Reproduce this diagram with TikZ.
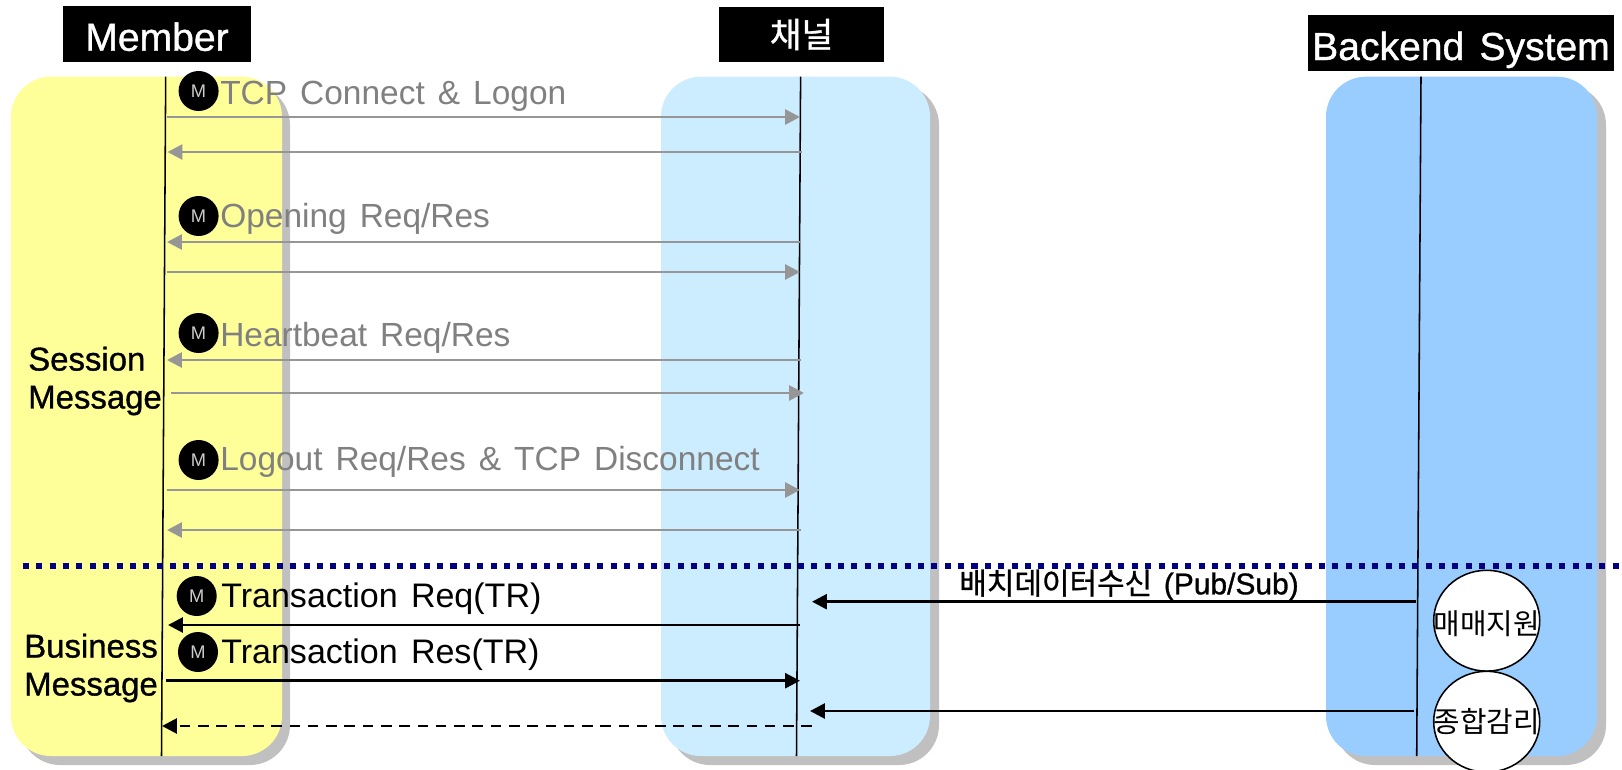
\documentclass[tikz,border=0pt]{standalone}
\usepackage{fontspec}
\setmainfont[WordSpace=1.4]{Liberation Sans}
\newfontfamily\heavyfont[FakeBold=1,WordSpace=1.4]{Liberation Sans}
\newfontfamily\krfont{Noto Sans CJK KR}
\newfontfamily\krheavy[FakeBold=1]{Noto Sans CJK KR}
\usetikzlibrary{calc,shapes.geometric,arrows.meta}
\definecolor{memberyellow}{HTML}{FFFF99}
\definecolor{channelblue}{HTML}{CCECFF}
\definecolor{backendblue}{HTML}{99CCFF}
\definecolor{shadowgray}{HTML}{C0C0C0}
\definecolor{sessiongray}{HTML}{969696}
\definecolor{labelgray}{HTML}{808080}
\definecolor{dotnavy}{HTML}{000080}
\tikzset{
  header/.style={fill=black,text=white,inner sep=0pt,font={\heavyfont\fontsize{27.8}{27.8}\selectfont}},
  lane/.style={rounded corners=1cm},
  lifeline/.style={line width=1.1pt},
  session/.style={->,line width=2pt,sessiongray},
  business/.style={->,line width=2pt},
  mark badge/.style={circle,fill=black,text=white!80!black,inner sep=0pt,minimum size=1cm,font={\fontsize{13}{13}\selectfont}},
  msglabel/.style={anchor=west,inner sep=0pt,font={\fontsize{23.8}{23.8}\selectfont}},
  sidelabel/.style={align=left,anchor=west,inner sep=0pt,font={\heavyfont\fontsize{23.4}{27}\selectfont}},
  sysbubble/.style={ellipse,draw,line width=1.1pt,fill=white,inner sep=0pt,minimum width=2.65cm,minimum height=2.52cm,font={\krfont\fontsize{20.5}{20.5}\selectfont}}
}
\begin{document}
\begin{tikzpicture}[>={Triangle[length=10.5pt,width=10.5pt]},x=0.025cm,y=-0.025cm]
\useasboundingbox (0,0) rectangle (1622,769);
\clip (0,0) rectangle (1622,769);

% lanes
\fill[lane,shadowgray] (20,85) rectangle (290,765);
\fill[lane,memberyellow] (11,76.7) rectangle (282,756);
\fill[lane,shadowgray] (670,85) rectangle (939,765);
\fill[lane,channelblue] (661,76.7) rectangle (930,756);
\fill[lane,shadowgray] (1335,85) rectangle (1606,765);
\fill[lane,backendblue] (1326,76.7) rectangle (1597,756);

% headers
\node[header,minimum width=4.7cm,minimum height=1.4cm] (member) at (157,34) {\raisebox{-11.9pt}[0pt][0pt]{Member}};
\node[header,minimum width=4.125cm,minimum height=1.375cm] (channel) at (801.5,34.5) {\krheavy\fontsize{24.5}{24.5}\selectfont 채널};
\node[header,minimum width=7.65cm,minimum height=1.4cm] (backend) at (1461,43) {\raisebox{-12.1pt}[0pt][0pt]{Backend System}};

% lifelines
\coordinate (mt) at (165.7,76.7);
\coordinate (mb) at (161.5,756);
\coordinate (ct) at (800.6,76.7);
\coordinate (cb) at (796.5,756);
\coordinate (bt) at (1421,76.7);
\coordinate (bb) at (1416.7,756);
\draw[lifeline] (mt) -- (mb);
\draw[lifeline] (ct) -- (cb);
\draw[lifeline] (bt) -- (bb);

% divider
\coordinate (dl) at (23,565.7);
\coordinate (dr) at (1622,565.7);
\draw[dotnavy,line width=4.3pt,dash pattern=on 4.3pt off 5.2pt] (dl) -- (dr);

% session messages
\coordinate (s1l) at (166.5,117);   \coordinate (s1r) at (800,117);
\coordinate (s2l) at (167.5,152);   \coordinate (s2r) at (801.5,152);
\coordinate (s3l) at (167,242);     \coordinate (s3r) at (801,242);
\coordinate (s4l) at (166.5,272);   \coordinate (s4r) at (800,272);
\coordinate (s5l) at (167,360);     \coordinate (s5r) at (801,360);
\coordinate (s6l) at (171,393);     \coordinate (s6r) at (804,393);
\coordinate (s7l) at (166.5,490);   \coordinate (s7r) at (800,490);
\coordinate (s8l) at (167,530);     \coordinate (s8r) at (801,530);
\draw[session] (s1l) -- (s1r);
\draw[session] (s2r) -- (s2l);
\draw[session] (s3r) -- (s3l);
\draw[session] (s4l) -- (s4r);
\draw[session] (s5r) -- (s5l);
\draw[session] (s6l) -- (s6r);
\draw[session] (s7l) -- (s7r);
\draw[session] (s8r) -- (s8l);

% business messages
\coordinate (b1l) at (168,625);     \coordinate (b1r) at (800,625);
\coordinate (b2l) at (166,680.7);   \coordinate (b2r) at (800,680.7);
\coordinate (b3l) at (162,726);     \coordinate (b3r) at (812,726);
\coordinate (b4l) at (812,601.7);   \coordinate (b4r) at (1416,601.7);
\coordinate (b5l) at (810,711);     \coordinate (b5r) at (1414,711);
\draw[business] (b1r) -- (b1l);
\draw[business] (b2l) -- (b2r);
\draw[business,dash pattern=on 7.5pt off 5.5pt] (b3r) -- (b3l);
\draw[business] (b4r) -- (b4l);
\draw[business] (b5r) -- (b5l);

% message labels
\node[mark badge] (m1) at (198.6,91) {M};
\node[msglabel,text=labelgray] (tcp) at (220,96) {TCP Connect \& Logon};
\node[mark badge] (m2) at (198.6,216) {M};
\node[msglabel,text=labelgray] (opening) at (220,219) {Opening Req/Res};
\node[mark badge] (m3) at (198.6,333) {M};
\node[msglabel,text=labelgray] (heartbeat) at (220,338) {Heartbeat Req/Res};
\node[mark badge] (m4) at (198.6,460) {M};
\node[msglabel,text=labelgray] (logout) at (220,462) {Logout Req/Res \& TCP Disconnect};
\node[mark badge] (m5) at (196.7,596) {M};
\node[msglabel,font={\fontsize{24.2}{24.2}\selectfont}] (trreq) at (221,599) {Transaction Req(TR)};
\node[mark badge] (m6) at (198,652) {M};
\node[msglabel,font={\fontsize{24.2}{24.2}\selectfont}] (trres) at (221,655) {Transaction Res(TR)};

% side labels
\node[sidelabel] (sessionmsg) at (28,381) {Session\\Message};
\node[sidelabel] (businessmsg) at (24,668) {Business\\Message};

% backend
\node[anchor=center,inner sep=0pt,font={\heavyfont\fontsize{21.3}{21.3}\selectfont}] (batch) at (1129,585) {{\krheavy 배치데이터수신} (Pub/Sub)};
\node[sysbubble] (trade) at (1486.7,620.7) {\makebox[0pt]{\raisebox{-10pt}[0pt][0pt]{매매지원}}};
\node[sysbubble] (surv) at (1486.7,721.7) {\makebox[0pt]{종합감리}};
\end{tikzpicture}
\end{document}
